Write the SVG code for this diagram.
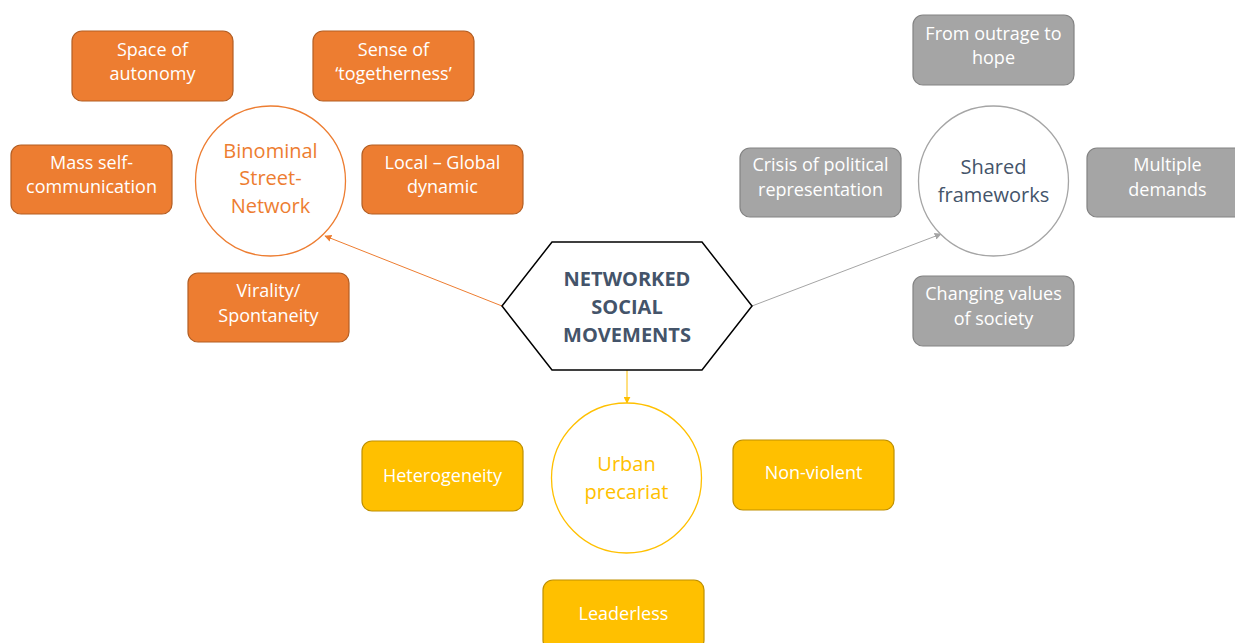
<svg xmlns="http://www.w3.org/2000/svg" width="1235" height="643" viewBox="0 0 1235 643">
<defs>
<style>
.t{font-family:"Open Sans","Noto Sans","Liberation Sans",sans-serif;text-anchor:middle}
.bt{font-size:18px;fill:#fff}
.ob{fill:#ED7D31;stroke:#B35E23;stroke-width:1.2}
.gb{fill:#A5A5A5;stroke:#838383;stroke-width:1.2}
.yb{fill:#FFC000;stroke:#BF9000;stroke-width:1.2}
.ct{font-size:20px}
</style>
<marker id="ao" viewBox="0 0 10 10" refX="9" refY="5" markerWidth="7" markerHeight="7" orient="auto"><path d="M0,0 L10,5 L0,10 z" fill="#ED7D31"/></marker>
<marker id="ag" viewBox="0 0 10 10" refX="9" refY="5" markerWidth="7" markerHeight="7" orient="auto"><path d="M0,0 L10,5 L0,10 z" fill="#A5A5A5"/></marker>
<marker id="ay" viewBox="0 0 10 10" refX="9" refY="5" markerWidth="7" markerHeight="7" orient="auto"><path d="M0,0 L10,5 L0,10 z" fill="#FFC000"/></marker>
</defs>
<rect width="1235" height="643" fill="#fff"/>
<g id="connectors">
<line x1="502" y1="306" x2="325" y2="236" stroke="#ED7D31" stroke-width="1" marker-end="url(#ao)"/>
<line x1="752" y1="306" x2="941" y2="234" stroke="#A5A5A5" stroke-width="1" marker-end="url(#ag)"/>
<line x1="627" y1="370" x2="627" y2="403" stroke="#FFC000" stroke-width="1" marker-end="url(#ay)"/>
</g>
<g id="center">
<polygon points="502,306 552,242 702,242 752,306 702,370 552,370" fill="#fff" stroke="#000" stroke-width="1.5"/>
<text class="t" font-weight="bold" font-size="20px" fill="#44546A"><tspan x="627" y="286">NETWORKED</tspan><tspan x="627" y="314">SOCIAL</tspan><tspan x="627" y="342">MOVEMENTS</tspan></text>
</g>
<g id="binominal">
<circle cx="270.5" cy="181" r="75" fill="#fff" stroke="#ED7D31" stroke-width="1.3"/>
<text class="t ct" fill="#ED7D31"><tspan x="270.5" y="158">Binominal</tspan><tspan x="270.5" y="185">Street-</tspan><tspan x="270.5" y="213">Network</tspan></text>
</g>
<g id="space"><rect class="ob" x="72" y="31" width="161" height="70" rx="10"/><text class="t bt"><tspan x="152.5" y="56">Space of</tspan><tspan x="152.5" y="80">autonomy</tspan></text></g>
<g id="sense"><rect class="ob" x="313" y="31" width="161" height="70" rx="10"/><text class="t bt"><tspan x="393.5" y="56">Sense of</tspan><tspan x="393.5" y="80">‘togetherness’</tspan></text></g>
<g id="mass"><rect class="ob" x="11" y="145" width="161" height="69" rx="10"/><text class="t bt"><tspan x="91.5" y="169">Mass self-</tspan><tspan x="91.5" y="193">communication</tspan></text></g>
<g id="local"><rect class="ob" x="362" y="145" width="161" height="69" rx="10"/><text class="t bt"><tspan x="442.5" y="169">Local – Global</tspan><tspan x="442.5" y="193">dynamic</tspan></text></g>
<g id="virality"><rect class="ob" x="188" y="273" width="161" height="69" rx="10"/><text class="t bt"><tspan x="268.5" y="297">Virality/</tspan><tspan x="268.5" y="322">Spontaneity</tspan></text></g>
<g id="shared">
<circle cx="993.5" cy="181" r="75" fill="#fff" stroke="#A5A5A5" stroke-width="1.3"/>
<text class="t ct" fill="#44546A"><tspan x="993.5" y="174">Shared</tspan><tspan x="993.5" y="202">frameworks</tspan></text>
</g>
<g id="outrage"><rect class="gb" x="913" y="15" width="161" height="70" rx="10"/><text class="t bt"><tspan x="993.5" y="40">From outrage to</tspan><tspan x="993.5" y="64">hope</tspan></text></g>
<g id="crisis"><rect class="gb" x="740" y="148" width="161" height="69" rx="10"/><text class="t bt"><tspan x="820.5" y="171">Crisis of political</tspan><tspan x="820.5" y="196">representation</tspan></text></g>
<g id="multiple"><rect class="gb" x="1087" y="148" width="161" height="69" rx="10"/><text class="t bt"><tspan x="1167.5" y="171">Multiple</tspan><tspan x="1167.5" y="196">demands</tspan></text></g>
<g id="changing"><rect class="gb" x="913" y="276" width="161" height="70" rx="10"/><text class="t bt"><tspan x="993.5" y="300">Changing values</tspan><tspan x="993.5" y="325">of society</tspan></text></g>
<g id="urban">
<circle cx="626.5" cy="478" r="75" fill="#fff" stroke="#FFC000" stroke-width="1.3"/>
<text class="t ct" fill="#FFC000"><tspan x="626.5" y="471">Urban</tspan><tspan x="626.5" y="499">precariat</tspan></text>
</g>
<g id="hetero"><rect class="yb" x="362" y="441" width="161" height="70" rx="10"/><text class="t bt" x="442.5" y="482">Heterogeneity</text></g>
<g id="nonviolent"><rect class="yb" x="733" y="440" width="161" height="70" rx="10"/><text class="t bt" x="813.5" y="479">Non-violent</text></g>
<g id="leaderless"><rect class="yb" x="543" y="580" width="161" height="70" rx="10"/><text class="t bt" x="623.5" y="620">Leaderless</text></g>
</svg>
